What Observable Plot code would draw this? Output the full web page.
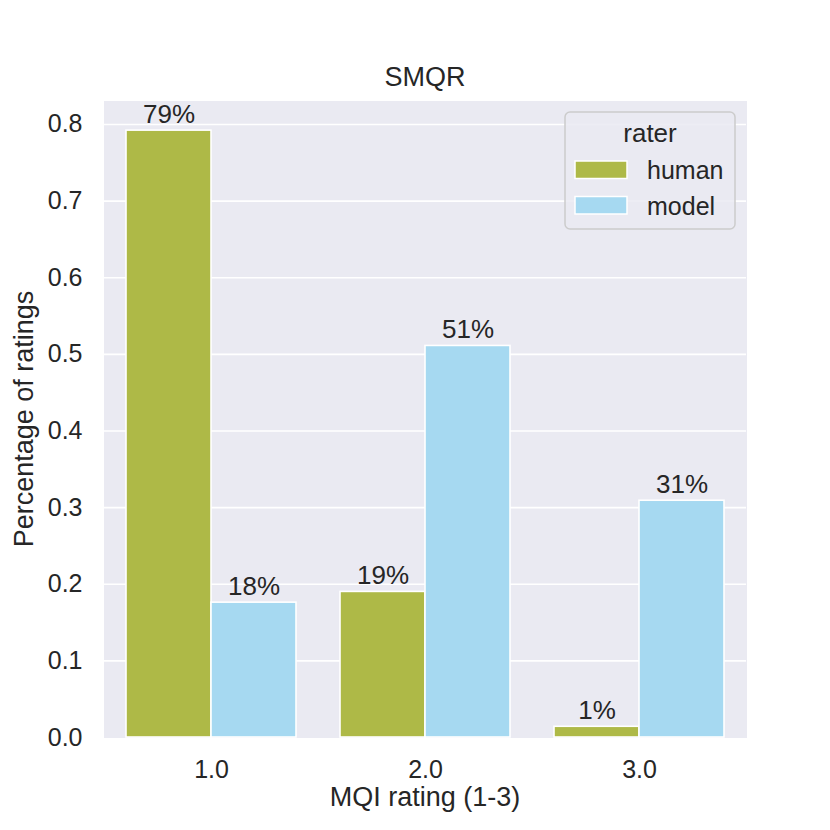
<!DOCTYPE html>
<html>
<head>
<meta charset="utf-8">
<script src="https://cdn.jsdelivr.net/npm/d3@7"></script>
<script src="https://cdn.jsdelivr.net/npm/@observablehq/plot@0.6"></script>
<style>
  html, body { margin: 0; padding: 0; background: white; }
  #chart { width: 830px; height: 830px; }
</style>
</head>
<body>
<div id="chart"></div>
<script>
const ratings = ["1.0", "2.0", "3.0"];
const raters = ["human", "model"];
const humanValues = [0.792, 0.190, 0.014];
const modelValues = [0.176, 0.511, 0.309];
const yTicks = [0, 0.1, 0.2, 0.3, 0.4, 0.5, 0.6, 0.7, 0.8];
const colors = ["#aeb947", "#a6d9f1"];
const title = "SMQR";
const xLabel = "MQI rating (1-3)";
const yLabel = "Percentage of ratings";
const legendTitle = "rater";

const rows = [];
ratings.forEach((r, i) => {
  rows.push({rating: r, rater: "human", value: humanValues[i]});
  rows.push({rating: r, rater: "model", value: modelValues[i]});
});

const font = "'Liberation Sans', Arial, Helvetica, sans-serif";
const ink = "#262626";
const bg = "#eaeaf2";

const W = 830, H = 830;
const mL = 104, mR = 84, mT = 101, mB = 93;

const plot = Plot.plot({
  width: W,
  height: H,
  marginLeft: mL,
  marginRight: mR,
  marginTop: mT,
  marginBottom: mB,
  style: {fontFamily: font, fontSize: "25px", color: ink, background: "white", overflow: "visible"},
  facet: {data: rows, x: "rating"},
  fx: {domain: ratings, padding: 0, label: null, tickSize: 0, tickPadding: 23},
  x: {domain: raters, paddingInner: 0, paddingOuter: 0.25, axis: null},
  y: {domain: [0, 0.83], ticks: yTicks, tickFormat: d3.format(".1f"), tickSize: 0, tickPadding: 22, label: null},
  color: {domain: raters, range: colors},
  marks: [
    Plot.frame({fill: bg, stroke: bg, strokeWidth: 1}),
    Plot.ruleY(yTicks.slice(1), {stroke: "white", strokeWidth: 1.6, strokeOpacity: 1}),
    Plot.barY(rows, {x: "rater", y: "value", fill: "rater", stroke: "white", strokeWidth: 1.6}),
    Plot.text(rows, {
      x: "rater", y: "value",
      text: d => Math.round(d.value * 100) + "%",
      lineAnchor: "bottom", dy: -8,
      fontSize: 26, fill: ink
    })
  ]
});

document.getElementById("chart").appendChild(plot);

const svg = d3.select(plot);
svg.selectAll("text").attr("fill", ink);

// title
svg.append("text")
  .attr("x", mL + (W - mL - mR) / 2).attr("y", 86)
  .attr("text-anchor", "middle")
  .attr("font-size", 27).attr("font-family", font).attr("fill", ink)
  .text(title);

// x label
svg.append("text")
  .attr("x", mL + (W - mL - mR) / 2).attr("y", 806)
  .attr("text-anchor", "middle")
  .attr("font-size", 27).attr("font-family", font).attr("fill", ink)
  .text(xLabel);

// y label
svg.append("text")
  .attr("transform", `translate(33, ${mT + (H - mT - mB) / 2}) rotate(-90)`)
  .attr("text-anchor", "middle")
  .attr("font-size", 27).attr("font-family", font).attr("fill", ink)
  .text(yLabel);

// legend
const lg = svg.append("g");
lg.append("rect")
  .attr("x", 565).attr("y", 112).attr("width", 170).attr("height", 117)
  .attr("rx", 5).attr("ry", 5)
  .attr("fill", bg).attr("fill-opacity", 0.85)
  .attr("stroke", "#cccccc").attr("stroke-width", 1.5);
lg.append("text")
  .attr("x", 650).attr("y", 142)
  .attr("text-anchor", "middle")
  .attr("font-size", 26).attr("font-family", font).attr("fill", ink)
  .text(legendTitle);
raters.forEach((r, i) => {
  const yTop = 161 + i * 35.5;
  lg.append("rect")
    .attr("x", 575).attr("y", yTop).attr("width", 52).attr("height", 17.5)
    .attr("fill", colors[i]).attr("stroke", "white").attr("stroke-width", 1.5);
  lg.append("text")
    .attr("x", 647).attr("y", yTop + 18)
    .attr("text-anchor", "start")
    .attr("font-size", 25).attr("font-family", font).attr("fill", ink)
    .text(r);
});
</script>
</body>
</html>
